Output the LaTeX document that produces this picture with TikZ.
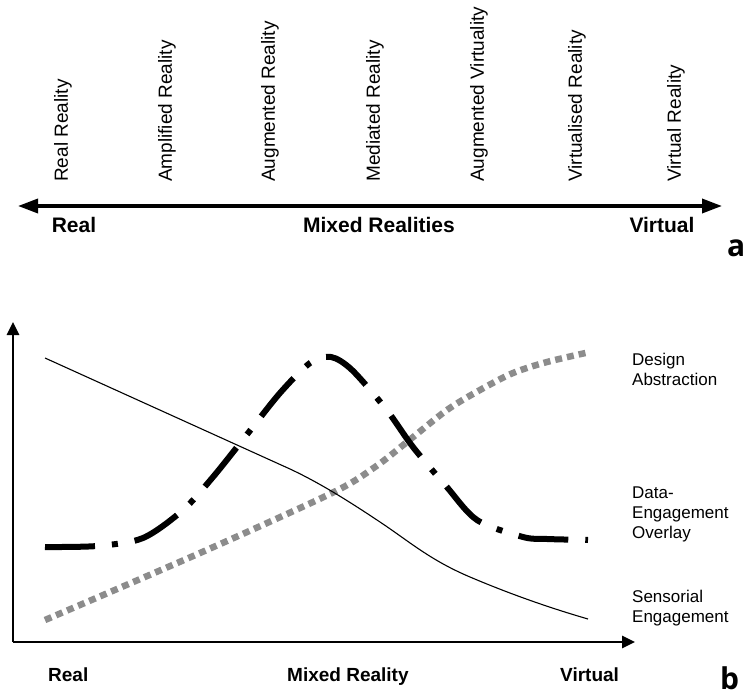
\documentclass[tikz,border=0pt]{standalone}
\usepackage{fontspec}
\setmainfont{Liberation Sans}
\newfontfamily\panelfont{Open Sans}
\usetikzlibrary{arrows.meta}
\definecolor{dotgray}{HTML}{8C8C8C}
\tikzset{
  toplabel/.style={rotate=90, anchor=west, inner sep=0pt, font=\fontsize{19}{22}\selectfont},
  bigbold/.style={anchor=base, inner sep=0pt, font=\fontsize{21}{24}\selectfont\bfseries},
  axbold/.style={anchor=base west, inner sep=0pt, font=\fontsize{19}{22}\selectfont\bfseries},
  sidelabel/.style={anchor=north west, inner sep=0pt, align=left, font=\fontsize{17}{20}\selectfont},
  panel/.style={anchor=base west, inner sep=0pt, font=\fontsize{30}{32}\panelfont\bfseries},
  toparrow/.style={line width=3.5pt, {Triangle[length=20pt,width=14pt]}-{Triangle[length=20pt,width=14pt]}},
  axis/.style={line width=2.6pt, -{Triangle[length=13pt,width=12pt]}},
  sensorial/.style={line width=1.1pt},
  overlay/.style={line width=6pt, line cap=butt, dash pattern=on 50pt off 17pt on 6pt off 17pt},
  design/.style={line width=6.5pt, color=dotgray, line cap=butt, dash pattern=on 7pt off 5pt},
}
\begin{document}
\begin{tikzpicture}[x=1pt, y=-1pt]
\useasboundingbox (0,0) rectangle (747,695);

% ---------- panel a ----------
\coordinate (aL) at (18,206);
\coordinate (aR) at (722,206);
\draw[toparrow] (aL) -- (aR);

\node[toplabel] (rr) at (63,182) {Real Reality};
\node[toplabel] (amr) at (167,182) {Amplified Reality};
\node[toplabel] (aur) at (270,182) {Augmented Reality};
\node[toplabel] (mer) at (375,182) {Mediated Reality};
\node[toplabel] (auv) at (479,182) {Augmented Virtuality};
\node[toplabel] (vir) at (577,182) {Virtualised Reality};
\node[toplabel] (vr) at (676,182) {Virtual Reality};

\node[bigbold] (treal) at (74,233) {Real};
\node[bigbold] (tmix) at (379,233) {Mixed Realities};
\node[bigbold] (tvirt) at (662,233) {Virtual};
\node[panel] (pa) at (727,256) {a};

% ---------- panel b ----------
\coordinate (O) at (13,642);
\coordinate (Ytop) at (13,322);
\coordinate (Xend) at (635,642);
\draw[axis] (O) -- (Ytop);
\draw[axis] (O) -- (Xend);

\draw[design] plot[smooth, tension=0.5] coordinates {(45,620) (200,553) (332,493) (375,467) (407,442) (447,410) (480,390) (513,373) (547,362) (590,352)};

\draw[sensorial] (45,358) -- (290,469) .. controls (320,483) and (350,502) .. (380,522)
  .. controls (410,542) and (430,560) .. (470,577)
  .. controls (510,594) and (550,608) .. (588,619);

\draw[overlay] plot[smooth, tension=0.5] coordinates {(45,547) (97,546) (143,538) (183,510) (213,477) (245,437) (280,393) (310,363) (331,357) (352,370) (386,409) (413,447) (446,486) (477,520) (523,537) (547,539) (588,540)};

\node[sidelabel] (da) at (632,353) {Design\\Abstraction};
\node[sidelabel] (deo) at (632,487) {Data-\\Engagement\\Overlay};
\node[sidelabel] (se) at (632,590) {Sensorial\\Engagement};

\node[axbold] (breal) at (48,681) {Real};
\node[axbold] (bmix) at (287,681) {Mixed Reality};
\node[axbold] (bvirt) at (560,681) {Virtual};
\node[panel] (pb) at (720,689) {b};
\end{tikzpicture}
\end{document}
